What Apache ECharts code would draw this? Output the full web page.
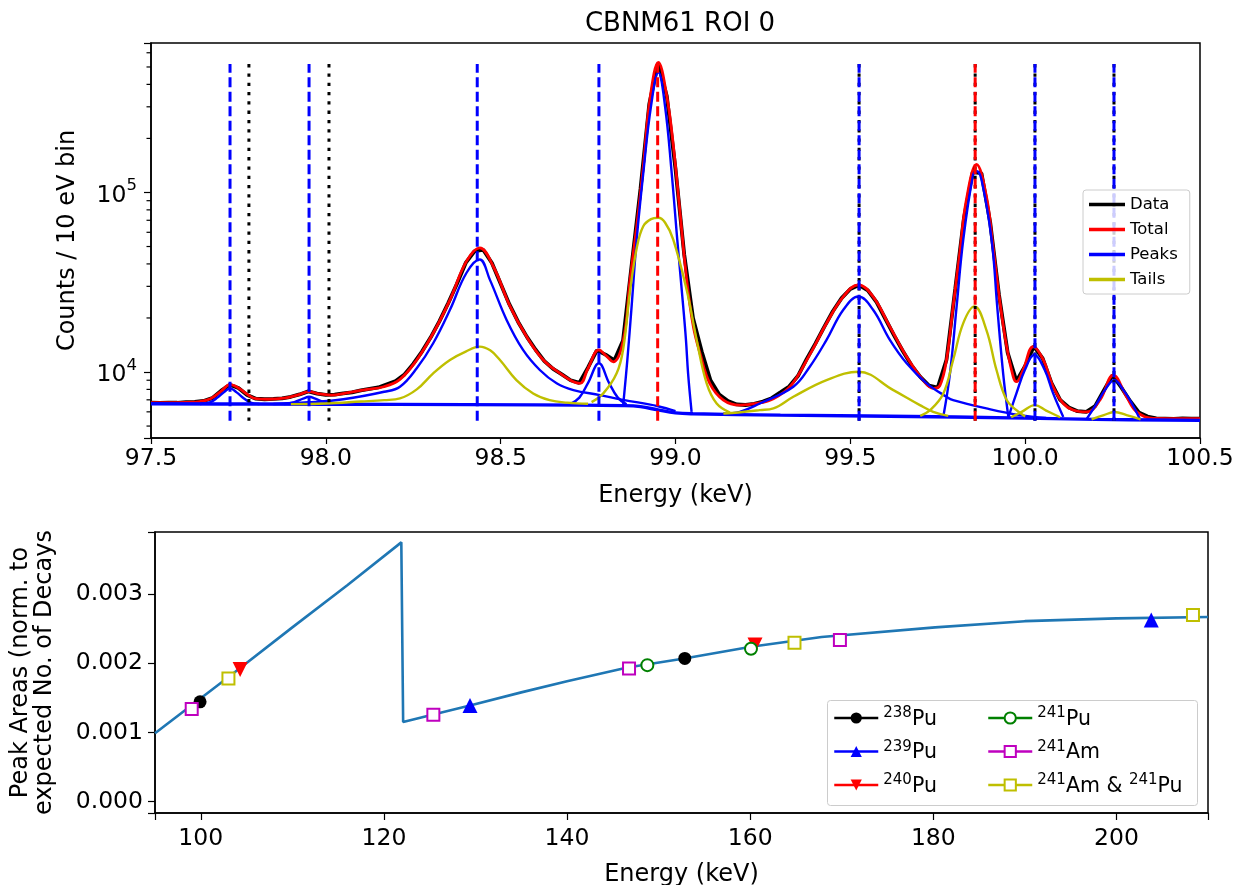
<!DOCTYPE html>
<html><head><meta charset="utf-8">
<script src="https://cdn.jsdelivr.net/npm/echarts@6/dist/echarts.min.js"></script>
<style>html,body{margin:0;padding:0;background:#fff}#c{width:1238px;height:885px}</style>
</head><body><div id="c"></div>
<script>
// ---------------- TOP PANEL DATA ----------------
const binStart = 97.5;
const binWidth = 0.025;
const dataCounts = [6750,6720,6760,6740,6790,6820,6900,7150,7850,8500,
 8150,7450,7100,7050,7080,7130,7280,7500,7800,7580,
 7450,7480,7600,7700,7900,8050,8200,8550,8900,9700,
 11100,13000,15600,19200,24200,31000,40500,47000,48000,40500,
 31000,23800,19000,15700,13300,11500,10400,9700,9000,8700,
 10600,13200,12500,11600,15000,40000,105000,310000,525000,345000,
 135000,45000,20000,13000,9000,7500,6900,6600,6550,6650,
 6850,7150,7700,8300,9500,11800,14400,17800,21800,25800,
 29000,30500,28500,24500,19800,16000,13100,10900,9400,8400,
 8200,11700,29000,72000,130000,128000,68000,27000,12800,8900,
 10800,13900,11900,8700,7000,6350,6050,6000,6450,7900,
 9600,8200,6900,5950,5650,5520,5500,5480,5510,5490,5500];

const totalE = [97.50,97.55,97.60,97.64,97.67,97.70,97.726,97.75,97.78,97.80,
 97.835,97.88,97.92,97.952,97.98,98.015,98.06,98.11,98.166,98.212,
 98.26,98.307,98.355,98.402,98.44,98.479,98.527,98.574,98.622,98.67,
 98.708,98.727,98.75,98.781,98.80,98.822,98.851,98.87,98.889,98.908,
 98.927,98.951,98.975,98.994,99.013,99.032,99.051,99.07,99.098,99.137,
 99.184,99.232,99.28,99.33,99.384,99.432,99.48,99.523,99.565,99.613,
 99.661,99.708,99.737,99.756,99.775,99.794,99.813,99.832,99.861,99.889,
 99.908,99.927,99.947,99.966,99.975,99.994,100.023,100.052,100.08,100.109,
 100.137,100.176,100.214,100.252,100.29,100.319,100.366,100.42,100.5];
const totalV = [6750,6750,6780,6850,7100,7800,8500,8150,7400,7100,
 7050,7150,7450,7770,7550,7440,7650,7950,8280,9100,
 11670,16450,25250,41300,49100,38700,23200,15750,11670,9830,
 8830,8650,10500,13270,12400,11400,15100,32700,64800,140300,
 330800,530300,345000,181400,77000,32700,17900,12720,8650,6980,
 6540,6680,7100,8400,12500,18700,26300,30600,26300,17900,
 12170,9020,8110,8400,11670,23200,46000,91400,143300,95400,
 50100,25200,13850,9410,8830,10260,13850,11670,8280,6680,
 6140,5990,6980,9620,7280,6000,5510,5500,5500];

// background (step) under the peaks
const peakBaseline = [[97.50,6650],[97.80,6630],[98.20,6600],[98.60,6560],[98.85,6500],[98.90,6420],
 [98.95,6150],[99.00,5920],[99.05,5850],[99.30,5750],[99.80,5620],[100.20,5450],[100.50,5380]];
// individual fitted peaks (incl. background)
const peak9773 = [[97.64,6640],[97.67,6800],[97.69,7200],[97.71,7750],[97.726,8110],[97.745,7700],[97.765,7150],[97.785,6750],[97.81,6630]];
const peak9795 = [[97.88,6620],[97.91,6800],[97.935,7100],[97.952,7280],[97.97,7100],[97.995,6800],[98.02,6620]];
const peak9844 = [[97.85,6640],[97.95,6780],[98.05,7050],[98.167,7760],[98.212,8280],[98.26,10490],[98.307,14460],
 [98.355,22200],[98.402,35600],[98.44,42300],[98.469,32700],[98.517,19500],[98.564,13270],[98.612,10260],
 [98.66,8650],[98.708,7930],[98.784,7440],[98.85,7000],[98.95,6450],[99.0,6050]];
const peak9878 = [[98.70,6650],[98.725,7200],[98.75,8700],[98.781,11180],[98.81,8700],[98.835,7200],[98.86,6600]];
const peak9895 = [[98.8506,6600],[98.862,11500],[98.8745,23200],[98.889,54700],[98.908,128900],[98.930,303000],
 [98.951,466600],[98.970,303000],[98.989,128900],[99.005,54700],[99.022,23200],[99.03,15000],[99.036,9830],[99.046,6000]];
const peak9952 = [[99.137,5870],[99.184,6000],[99.241,6680],[99.337,8280],[99.384,10700],[99.432,15100],[99.48,22200],
 [99.523,26330],[99.565,22200],[99.613,15100],[99.661,11180],[99.718,8650],[99.775,7280],[99.794,6975],
 [99.889,6270],[99.985,5750],[100.06,5550]];
const peak9986 = [[99.766,5650],[99.785,9830],[99.804,23200],[99.823,54700],[99.851,125000],[99.861,131500],
 [99.875,118000],[99.904,54700],[99.920,23200],[99.937,9830],[99.952,5600]];
const peak10003 = [[99.952,5600],[99.975,7600],[99.999,10260],[100.026,12450],[100.056,10260],[100.08,7600],[100.109,5620]];
const peak10026 = [[100.176,5480],[100.205,6680],[100.228,7930],[100.255,9020],[100.281,7930],[100.305,6680],[100.328,5480]];
// tail components
const tail9844 = [[97.90,6620],[98.00,6680],[98.10,6850],[98.167,6975],[98.212,7130],[98.26,8000],[98.307,9830],
 [98.355,11670],[98.40,13000],[98.44,13850],[98.47,13200],[98.498,11670],[98.545,9020],[98.593,7600],
 [98.64,6975],[98.69,6750],[98.75,6650]];
const tail9895 = [[98.76,6800],[98.7935,7600],[98.8317,9830],[98.8506,13500],[98.8697,28000],[98.89,50000],
 [98.9078,64800],[98.93,71000],[98.9507,72240],[98.97,68000],[98.9936,54700],[99.0319,28700],[99.0605,15100],
 [99.0891,8650],[99.1177,6680],[99.1557,5950]];
const tail9952 = [[99.137,5870],[99.18,5950],[99.241,6130],[99.28,6270],[99.337,7280],[99.432,9020],[99.523,10040],
 [99.623,7930],[99.699,6540],[99.737,6000],[99.78,5700]];
const tail9986 = [[99.70,5700],[99.728,6130],[99.766,7600],[99.794,11670],[99.823,18710],[99.855,23200],[99.889,17170],
 [99.918,10260],[99.947,6976],[99.975,6130],[100.0,5650]];
const tail10003 = [[99.96,5600],[99.99,6000],[100.028,6540],[100.06,6100],[100.10,5600]];
const tail10026 = [[100.19,5450],[100.225,5750],[100.255,5990],[100.29,5750],[100.33,5450]];

// vertical marker lines
const expectedLines = [97.78, 98.009, 99.525, 99.857, 100.028, 100.254];
const fitLinesBlue = [97.726, 97.952, 98.433, 98.781, 99.525, 100.028, 100.254];
const fitLinesRed = [98.949, 99.857];
const vlineRange = [5350, 519000];
const minorTickValues = [5000,6000,7000,8000,9000,20000,30000,40000,50000,60000,70000,80000,90000,200000,300000,400000,500000,600000];

// ---------------- BOTTOM PANEL DATA ----------------
const effE = [95.0,103.0,110.0,116.0,121.9,122.1,125.4,129.4,135.0,140.0,146.6,152.8,160.1,167.8,180.2,190.0,200.0,210.0];
const effV = [0.00099,0.00180,0.00252,0.00313,0.00375,0.00115,0.00126,0.00139,0.00158,0.00174,0.00194,0.00207,0.00224,0.00238,0.00252,0.00261,0.00265,0.00267];
const pu238 = [[99.92,0.001443],[152.86,0.002071]];
const pu239 = [[129.4,0.001389],[203.8,0.002627]];
const pu240 = [[104.3,0.001911],[160.53,0.002264]];
const pu241 = [[148.77,0.001974],[160.09,0.002212]];
const am241 = [[99.01,0.001341],[125.4,0.001258],[146.77,0.001926],[169.8,0.002337]];
const am241pu241 = [[103.02,0.001781],[164.84,0.002299],[208.36,0.0027]];

// ---------------- CHART ----------------
const FONT = 'DejaVu Sans';
const zip = (a, b) => a.map((x, i) => [x, b[i]]);
const dataPairs = dataCounts.map((v, i) => [binStart + i * binWidth, v]);

const series = [];
function topLine(name, data, color, width, extra) {
  series.push(Object.assign({
    name: name, type: 'line', xAxisIndex: 0, yAxisIndex: 0, data: data,
    symbol: 'none', showSymbol: false, smooth: 0.4,
    lineStyle: {color: color, width: width}, itemStyle: {color: color},
    emphasis: {disabled: true}, silent: true, animation: false
  }, extra || {}));
}
topLine('Data', dataPairs, '#000000', 3.8, {smooth: false});
topLine('Total', zip(totalE, totalV), '#ff0000', 2.8);
[peakBaseline, peak9773, peak9795, peak9844, peak9878, peak9895, peak9952, peak9986, peak10003, peak10026]
  .forEach((p, i) => topLine('Peaks', p, '#0000ff', i === 0 ? 3.4 : 2.4));
[tail9844, tail9895, tail9952, tail9986, tail10003, tail10026]
  .forEach(t => topLine('Tails', t, '#bfbf00', 2.4));
expectedLines.forEach(e => topLine('_exp', [[e, vlineRange[0]], [e, vlineRange[1]]], '#000000', 3,
  {smooth: false, lineStyle: {color: '#000', width: 3, type: [3.3, 6]}}));
fitLinesBlue.forEach(e => topLine('_fitb', [[e, vlineRange[0]], [e, vlineRange[1]]], '#0000ff', 3,
  {smooth: false, lineStyle: {color: '#0000ff', width: 3, type: [10, 4.5]}}));
fitLinesRed.forEach(e => topLine('_fitr', [[e, vlineRange[0]], [e, vlineRange[1]]], '#ff0000', 3,
  {smooth: false, lineStyle: {color: '#ff0000', width: 3, type: [10, 4.5]}}));

// minor ticks of log axis
series.push({
  type: 'custom', xAxisIndex: 0, yAxisIndex: 0, silent: true, animation: false, clip: false,
  data: minorTickValues.map(v => [binStart, v]),
  renderItem: function (params, api) {
    const p = api.coord([api.value(0), api.value(1)]);
    return {type: 'line', shape: {x1: p[0] - 4.5, y1: p[1], x2: p[0], y2: p[1]},
      style: {stroke: '#000', lineWidth: 1.2}};
  }
});

// bottom panel
series.push({
  name: 'eff', type: 'line', xAxisIndex: 1, yAxisIndex: 1, data: zip(effE, effV),
  symbol: 'none', smooth: false, lineStyle: {color: '#1f77b4', width: 2.6}, silent: true, animation: false
});
function marker(name, data, color, symbol, size, empty, rotate) {
  series.push({
    name: name, type: 'line', xAxisIndex: 1, yAxisIndex: 1, data: data,
    symbol: symbol, symbolSize: size, symbolRotate: rotate || 0, showSymbol: true,
    lineStyle: {color: color, width: 2.5, opacity: 0},
    itemStyle: empty ? {color: '#ffffff', borderColor: color, borderWidth: 2} : {color: color, borderWidth: 0},
    silent: true, animation: false, z: 5
  });
}
marker('238Pu', pu238, '#000000', 'circle', 13, false);
marker('239Pu', pu239, '#0000ff', 'triangle', 15, false);
marker('240Pu', pu240, '#ff0000', 'triangle', 15, false, 180);
marker('241Pu', pu241, '#008000', 'circle', 12, true);
marker('241Am', am241, '#bf00bf', 'rect', 12, true);
marker('241Am & 241Pu', am241pu241, '#bfbf00', 'rect', 12, true);

function isoRich(name) {
  return name.split(' & ').map(part => {
    const m = part.match(/^(\d+)(.*)$/);
    return '{s|' + m[1] + '}{m|' + m[2] + '}';
  }).join('{m| & }');
}
const isoRichStyles = {
  m: {fontFamily: FONT, fontSize: 20.5, color: '#000', lineHeight: 24, verticalAlign: 'bottom'},
  s: {fontFamily: FONT, fontSize: 15, color: '#000', lineHeight: 24, verticalAlign: 'top'}
};
function isoLegend(names, left) {
  return {
    data: names, orient: 'vertical', left: left, top: 706,
    itemWidth: 44, itemHeight: 14, itemGap: 9.5, padding: 0,
    lineStyle: {width: 2.5, opacity: 1}, selectedMode: false, z: 10,
    formatter: isoRich,
    textStyle: {fontFamily: FONT, color: '#000', rich: isoRichStyles}
  };
}

const axisCommon = {
  axisLine: {show: true, onZero: false, lineStyle: {color: '#000', width: 1.5}},
  axisTick: {show: true, length: 6, lineStyle: {color: '#000', width: 1.2}},
  splitLine: {show: false}
};

const option = {
  animation: false,
  backgroundColor: '#ffffff',
  textStyle: {fontFamily: FONT},
  title: {text: 'CBNM61 ROI 0', left: 675, top: 6, textAlign: 'center',
    textStyle: {fontFamily: FONT, fontSize: 26, fontWeight: 'normal', color: '#000'}},
  grid: [
    {left: 151, top: 43, width: 1049, height: 395, show: true, borderColor: '#000', borderWidth: 1.5, outerBoundsMode: 'none'},
    {left: 155, top: 532, width: 1053, height: 281, show: true, borderColor: '#000', borderWidth: 1.5, outerBoundsMode: 'none'}
  ],
  graphic: [{
    type: 'rect', left: 827, top: 700, z: 9, silent: true,
    shape: {width: 370, height: 105, r: 3},
    style: {fill: 'rgba(255,255,255,0.85)', stroke: '#cccccc', lineWidth: 1}
  }],
  xAxis: [
    Object.assign({}, axisCommon, {
      gridIndex: 0, type: 'value', min: 97.5, max: 100.5, interval: 0.5,
      name: 'Energy (keV)', nameLocation: 'middle', nameGap: 46,
      nameTextStyle: {fontFamily: FONT, fontSize: 24, color: '#000'},
      axisLabel: {fontFamily: FONT, fontSize: 23.5, color: '#000', margin: 9, formatter: v => v.toFixed(1)}
    }),
    Object.assign({}, axisCommon, {
      gridIndex: 1, type: 'value', min: 95, max: 210, splitNumber: 6,
      name: 'Energy (keV)', nameLocation: 'middle', nameGap: 50,
      nameTextStyle: {fontFamily: FONT, fontSize: 24, color: '#000'},
      axisTick: {show: true, length: 7, lineStyle: {color: '#000', width: 1.2}},
      axisLabel: {fontFamily: FONT, fontSize: 23.5, color: '#000', margin: 14,
        formatter: v => (Math.abs(v % 20) < 1e-9 ? String(v) : '')}
    })
  ],
  yAxis: [
    Object.assign({}, axisCommon, {
      gridIndex: 0, type: 'log', logBase: 10, min: 4290, max: 680000,
      name: 'Counts / 10 eV bin', nameLocation: 'middle', nameGap: 71, nameRotate: 90,
      nameTextStyle: {fontFamily: FONT, fontSize: 24, color: '#000'},
      axisTick: {show: true, length: 7, lineStyle: {color: '#000', width: 1.2}},
      axisLabel: {color: '#000', margin: 14,
        formatter: function (v) {
          const e = Math.log10(v), r = Math.round(e);
          if (Math.abs(e - r) > 1e-6) return '';
          return '{b|10}{s|' + r + '}';
        },
        rich: {
          b: {fontFamily: FONT, fontSize: 23.5, color: '#000', lineHeight: 30, verticalAlign: 'bottom'},
          s: {fontFamily: FONT, fontSize: 16.5, color: '#000', lineHeight: 30, verticalAlign: 'top'}
        }}
    }),
    Object.assign({}, axisCommon, {
      gridIndex: 1, type: 'value', min: -0.000165, max: 0.0039,
      name: 'Peak Areas (norm. to\nexpected No. of Decays', nameLocation: 'middle', nameGap: 98, nameRotate: 90,
      nameTextStyle: {fontFamily: FONT, fontSize: 24, color: '#000', lineHeight: 24},
      axisTick: {show: true, length: 7, lineStyle: {color: '#000', width: 1.2}},
      axisLabel: {fontFamily: FONT, fontSize: 23.5, color: '#000', margin: 12,
        formatter: v => {
          const k = v / 0.001;
          return Math.abs(k - Math.round(k)) < 1e-6 ? (Math.round(k) * 0.001).toFixed(3) : '';
        }}
    })
  ],
  legend: [
    {
      data: ['Data', 'Total', 'Peaks', 'Tails'], orient: 'vertical', left: 1083, top: 190,
      icon: 'rect', itemWidth: 36, itemHeight: 3.5, itemGap: 8, padding: [6, 12, 6, 6],
      borderColor: '#cccccc', borderWidth: 1, borderRadius: 3, backgroundColor: 'rgba(255,255,255,0.8)',
      selectedMode: false,
      textStyle: {fontFamily: FONT, fontSize: 16.5, color: '#000', lineHeight: 16.5}
    },
    isoLegend(['238Pu', '239Pu', '240Pu'], 833),
    isoLegend(['241Pu', '241Am', '241Am & 241Pu'], 987)
  ],
  series: series
};
const chart = echarts.init(document.getElementById('c'), null, {renderer: 'canvas'});
chart.setOption(option);
</script></body></html>
